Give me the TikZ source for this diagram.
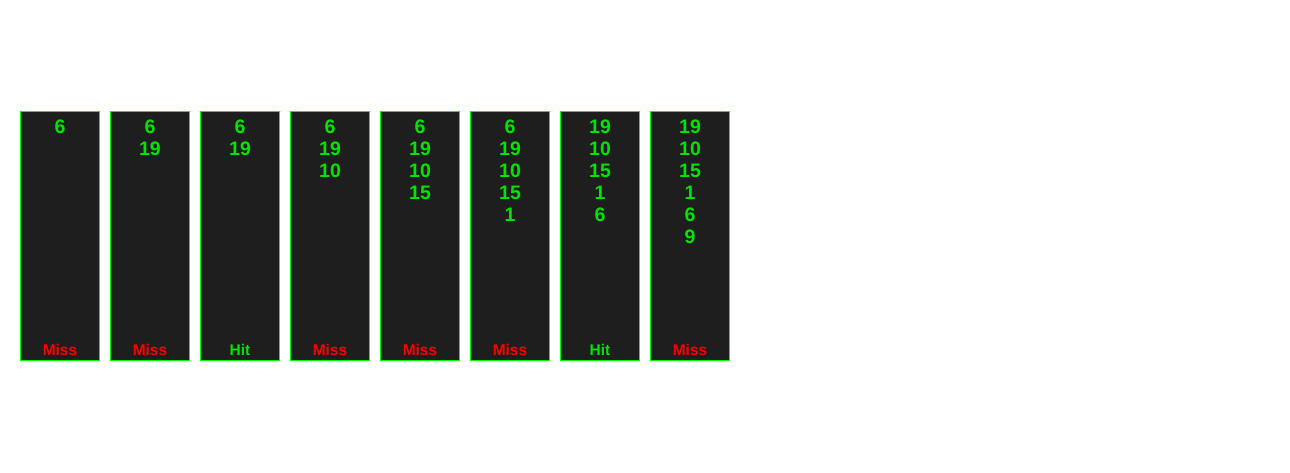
\documentclass[tikz,border=0pt]{standalone}
\usepackage{fontspec}
\setmainfont{Liberation Sans}
\usepackage{tikz}
\definecolor{slotbg}{HTML}{1E1E1E}
\definecolor{slotedge}{HTML}{00FF00}
\definecolor{valgreen}{HTML}{00E600}
\definecolor{missred}{HTML}{FF0000}

\begin{document}
\begin{tikzpicture}[x=1pt,y=-1pt,
    slot/.style={draw=slotedge,fill=slotbg,line width=1pt,minimum width=79pt,minimum height=249pt,inner sep=0pt},
    val/.style={text=valgreen,inner sep=0pt,font=\bfseries\fontsize{19.5}{20}\selectfont},
    outcome/.style={inner sep=0pt,font=\bfseries\fontsize{15.5}{16}\selectfont}]
      \useasboundingbox (0,0) rectangle (1290,473);
      \foreach \i/\vals/\res/\col in {0/{6}/Miss/missred, 1/{6,19}/Miss/missred,
          2/{6,19}/Hit/valgreen, 3/{6,19,10}/Miss/missred, 4/{6,19,10,15}/Miss/missred,
          5/{6,19,10,15,1}/Miss/missred, 6/{19,10,15,1,6}/Hit/valgreen,
          7/{19,10,15,1,6,9}/Miss/missred} {
        \node[slot] (slot\i) at (60+90*\i,236) {};
        \foreach \v [count=\k] in \vals
          \node[val] (val\i-\k) at (60+90*\i,105+22*\k) {\v};
        \node[outcome,text=\col] (res\i) at (60+90*\i,350) {\res};
      }
    \end{tikzpicture}
\end{document}
